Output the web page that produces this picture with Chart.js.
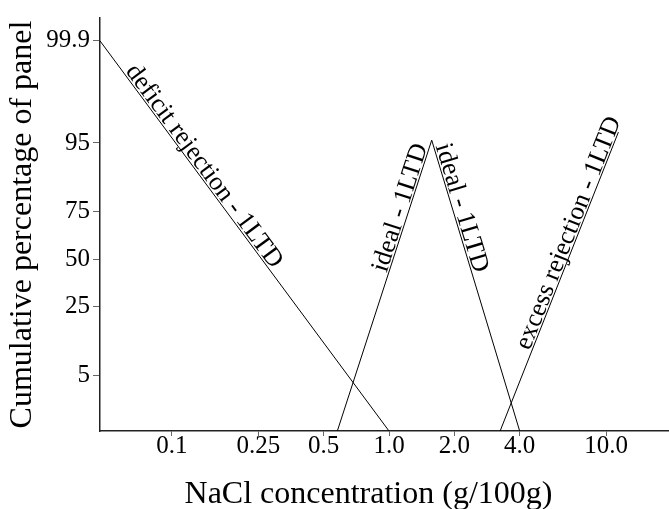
<!DOCTYPE html>
<html>
<head>
<meta charset="utf-8">
<script src="https://cdn.jsdelivr.net/npm/chart.js@4/dist/chart.umd.min.js"></script>
<style>
html,body{margin:0;padding:0;background:#fff;}
#wrap{width:669px;height:509px;}
</style>
</head>
<body>
<div id="wrap"><canvas id="c" width="669" height="509"></canvas></div>
<script>
// ---- data ----
const xTickValues = [0.1, 0.25, 0.5, 1, 2, 4, 10];
const xTickLabels = ['0.1', '0.25', '0.5', '1.0', '2.0', '4.0', '10.0'];
const yTickValues = [5, 25, 50, 75, 95, 99.9];
const yTickLabels = ['5', '25', '50', '75', '95', '99.9'];
const xRange = [0.0466, 19.5];          // NaCl g/100g
const yRange = [0.75, 99.968];          // cumulative %
const xTitle = 'NaCl concentration (g/100g)';
const yTitle = 'Cumulative percentage of panel';
const lineNames = ['deficit rejection - 1LTD', 'ideal - 1LTD', 'ideal - 1LTD', 'excess rejection - 1LTD'];
const deficitX = [0.0466, 1.0];
const deficitY = [99.9, 0.75];
const idealRiseX = [0.578, 1.573];
const idealRiseY = [0.75, 95.4];
const idealFallX = [1.573, 4.0];
const idealFallY = [95.4, 0.75];
const excessX = [3.25, 11.4];
const excessY = [0.75, 96.4];

// inverse normal CDF (probit) of a percentage
function probit(pct){
  const p = pct/100;
  const a=[-3.969683028665376e+01,2.209460984245205e+02,-2.759285104469687e+02,1.383577518672690e+02,-3.066479806614716e+01,2.506628277459239e+00];
  const b=[-5.447609879822406e+01,1.615858368580409e+02,-1.556989798598866e+02,6.680131188771972e+01,-1.328068155288572e+01];
  const c=[-7.784894002430293e-03,-3.223964580411365e-01,-2.400758277161838e+00,-2.549732539343734e+00,4.374664141464968e+00,2.938163982698783e+00];
  const d=[7.784695709041462e-03,3.224671290700398e-01,2.445134137142996e+00,3.754408661907416e+00];
  const pl=0.02425, ph=1-pl;
  let q,r;
  if(p<pl){q=Math.sqrt(-2*Math.log(p));return (((((c[0]*q+c[1])*q+c[2])*q+c[3])*q+c[4])*q+c[5])/((((d[0]*q+d[1])*q+d[2])*q+d[3])*q+1);}
  if(p<=ph){q=p-0.5;r=q*q;return (((((a[0]*r+a[1])*r+a[2])*r+a[3])*r+a[4])*r+a[5])*q/(((((b[0]*r+b[1])*r+b[2])*r+b[3])*r+b[4])*r+1);}
  q=Math.sqrt(-2*Math.log(1-p));return -(((((c[0]*q+c[1])*q+c[2])*q+c[3])*q+c[4])*q+c[5])/((((d[0]*q+d[1])*q+d[2])*q+d[3])*q+1);
}

const seriesX = [deficitX, idealRiseX, idealFallX, excessX];
const seriesY = [deficitY, idealRiseY, idealFallY, excessY];
const labelFraction = [0.335, 0.758, 0.2415, 0.651];

const FONT = '"Liberation Serif", "Times New Roman", serif';

const datasets = seriesX.map((xs, i) => ({
  label: lineNames[i],
  data: xs.map((x, j) => ({x: x, y: probit(seriesY[i][j])})),
  borderColor: '#000',
  borderWidth: 1,
  pointRadius: 0,
  fill: false,
  tension: 0
}));

const lineLabelPlugin = {
  id: 'lineLabels',
  afterDatasetsDraw(chart){
    const ctx = chart.ctx;
    chart.data.datasets.forEach((ds, i) => {
      const meta = chart.getDatasetMeta(i);
      const p0 = meta.data[0], p1 = meta.data[meta.data.length-1];
      const f = labelFraction[i];
      const x = p0.x + (p1.x - p0.x)*f, y = p0.y + (p1.y - p0.y)*f;
      const ang = Math.atan2(p1.y - p0.y, p1.x - p0.x);
      ctx.save();
      ctx.translate(x, y);
      ctx.rotate(ang);
      ctx.font = '26px ' + FONT;
      ctx.fillStyle = '#000';
      ctx.textAlign = 'center';
      ctx.textBaseline = 'alphabetic';
      ctx.fillText(ds.label, 0, -2);
      ctx.restore();
    });
  }
};

// x-axis title, drawn slightly left of the plot-area centre as in the source figure
const xTitlePlugin = {
  id: 'xTitle',
  afterDraw(chart){
    const ctx = chart.ctx;
    const area = chart.chartArea;
    ctx.save();
    ctx.font = '32px ' + FONT;
    ctx.fillStyle = '#000';
    ctx.textAlign = 'center';
    ctx.textBaseline = 'alphabetic';
    ctx.fillText(xTitle, (area.left + area.right)/2 - 16, area.bottom + 72);
    ctx.restore();
  }
};

new Chart(document.getElementById('c'), {
  type: 'line',
  data: {datasets},
  plugins: [lineLabelPlugin, xTitlePlugin],
  options: {
    responsive: false,
    animation: false,
    devicePixelRatio: 1,
    layout: {padding: {top: 15, right: 0, left: 0, bottom: 0}},
    plugins: {legend: {display: false}, tooltip: {enabled: false}},
    scales: {
      x: {
        type: 'logarithmic',
        min: xRange[0],
        max: xRange[1],
        afterBuildTicks: s => { s.ticks = xTickValues.map(v => ({value: v})); },
        afterFit: s => { s.height = 78; },
        ticks: {
          autoSkip: false, maxRotation: 0, minRotation: 0,
          callback: (v, i) => xTickLabels[i],
          color: '#000',
          padding: -2,
          font: {family: FONT, size: 25, lineHeight: 1}
        },
        grid: {drawOnChartArea: false, drawTicks: true, tickLength: 5, color: '#666'},
        border: {display: true, color: '#222', width: 1.5},
        title: {display: false}
      },
      y: {
        type: 'linear',
        min: probit(yRange[0]),
        max: probit(yRange[1]),
        afterBuildTicks: s => { s.ticks = yTickValues.map(v => ({value: probit(v)})); },
        afterFit: s => { s.width = 100; },
        ticks: {
          autoSkip: false,
          callback: (v, i) => yTickLabels[i],
          color: '#000',
          padding: 3,
          font: {family: FONT, size: 25, lineHeight: 1.2}
        },
        grid: {drawOnChartArea: false, drawTicks: true, tickLength: 7, color: '#666'},
        border: {display: true, color: '#222', width: 1.5},
        title: {
          display: true, text: yTitle, color: '#000',
          font: {family: FONT, size: 32, lineHeight: 1.2},
          padding: {top: 3, bottom: 0}
        }
      }
    }
  }
});
</script>
</body>
</html>
